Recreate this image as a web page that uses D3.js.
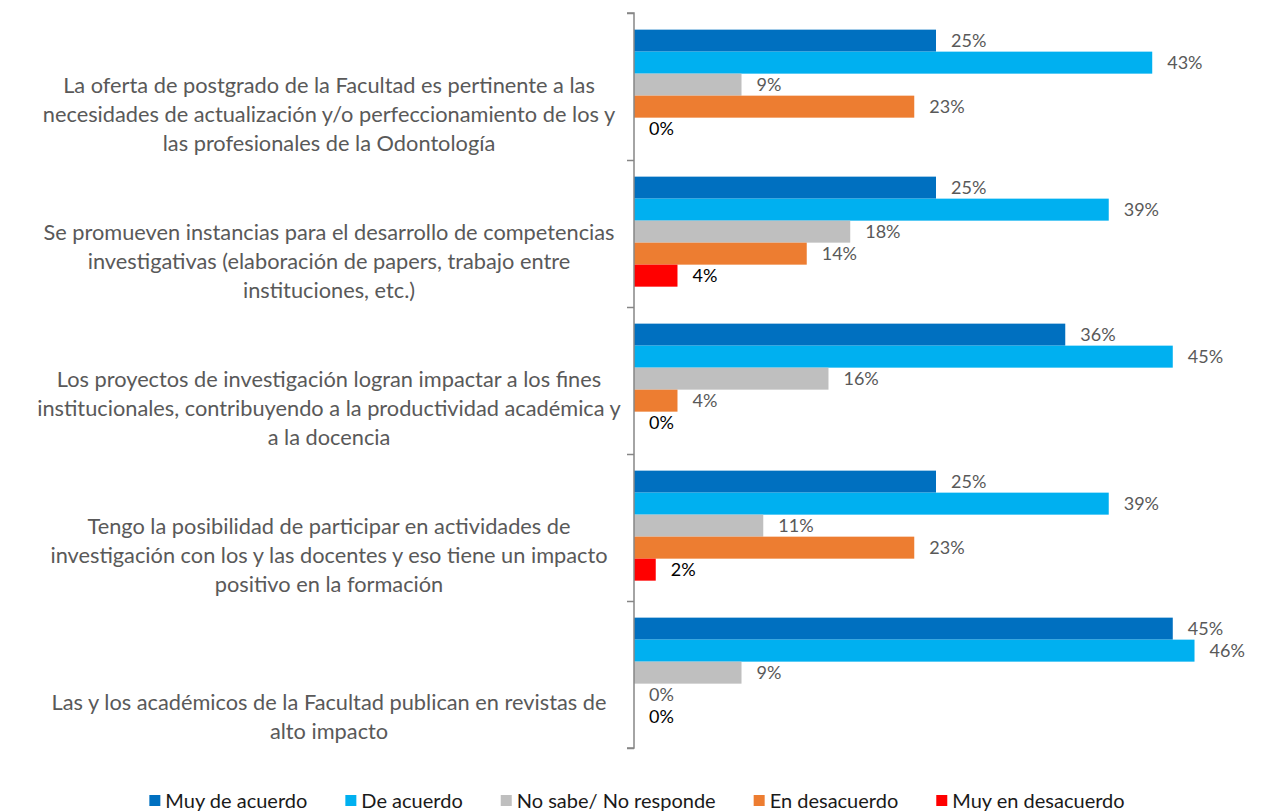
<!DOCTYPE html>
<html>
<head>
<meta charset="utf-8">
<script src="https://cdn.jsdelivr.net/npm/d3@7"></script>
<style>
  html, body { margin: 0; padding: 0; background: #fff; }
  svg { display: block; font-family: Lato, "Open Sans", sans-serif; }
</style>
</head>
<body>
<svg id="chart" width="1261" height="811"></svg>
<script>
// ---- data ----
const categories = [
  ["La oferta de postgrado de la Facultad es pertinente a las",
   "necesidades de actualización y/o perfeccionamiento de los y",
   "las profesionales de la Odontología"],
  ["Se promueven instancias para el desarrollo de competencias",
   "investigativas (elaboración de papers, trabajo entre",
   "instituciones, etc.)"],
  ["Los proyectos de investigación logran impactar a los fines",
   "institucionales, contribuyendo a la productividad académica y",
   "a la docencia"],
  ["Tengo la posibilidad de participar en actividades de",
   "investigación con los y las docentes  y eso tiene un impacto",
   "positivo en la formación"],
  ["Las y los académicos de la Facultad publican en revistas de",
   "alto impacto"]
];
const seriesNames = ["Muy de acuerdo", "De acuerdo", "No sabe/ No responde", "En desacuerdo", "Muy en desacuerdo"];
const seriesColors = ["#0070C0", "#00B0F0", "#BFBFBF", "#ED7D31", "#FF0000"];
const muyDeAcuerdo     = [25.0, 25.0, 35.7, 25.0, 44.6];
const deAcuerdo        = [42.9, 39.3, 44.6, 39.3, 46.4];
const noSabe           = [8.9, 17.9, 16.1, 10.7, 8.9];
const enDesacuerdo     = [23.2, 14.3, 3.6, 23.2, 0];
const muyEnDesacuerdo  = [0, 3.6, 0, 1.8, 0];
const seriesValues = [muyDeAcuerdo, deAcuerdo, noSabe, enDesacuerdo, muyEnDesacuerdo];

// ---- layout ----
const svg = d3.select("#chart");
const axisX = 634, plotTop = 13, plotBottom = 748;
const catIdx = d3.range(categories.length);

const x = d3.scaleLinear().domain([0, 50]).range([axisX, axisX + 604]);
const y0 = d3.scaleBand().domain(catIdx).range([plotTop, plotBottom]);
const y1 = d3.scaleBand().domain(d3.range(seriesNames.length))
  .range([0, y0.bandwidth()]).paddingOuter(0.84).paddingInner(0).align(0.45);

// bars
catIdx.forEach(ci => {
  const g = svg.append("g").attr("transform", `translate(0,${y0(ci)})`);
  seriesValues.forEach((vals, si) => {
    const v = vals[ci];
    if (v > 0) {
      g.append("rect")
        .attr("x", x(0))
        .attr("y", y1(si))
        .attr("width", x(v) - x(0))
        .attr("height", y1.bandwidth())
        .attr("fill", seriesColors[si]);
    }
    g.append("text")
      .attr("x", x(v) + 15)
      .attr("y", y1(si) + y1.bandwidth() / 2)
      .attr("dy", "0.35em")
      .attr("font-size", 18)
      .attr("fill", si === 4 ? "#000000" : "#595959")
      .text(Math.round(v) + "%");
  });
});

// axis
const axG = svg.append("g").attr("transform", `translate(${axisX},0)`);
axG.call(d3.axisLeft(d3.scaleLinear().domain([0, categories.length]).range([plotTop, plotBottom]))
  .ticks(categories.length).tickSize(7).tickFormat(""));
axG.select(".domain").attr("stroke", "#868686").attr("stroke-width", 1.5)
  .attr("d", `M-7,${plotTop}H0V${plotBottom}H-7`);
axG.selectAll(".tick line").attr("stroke", "#868686").attr("stroke-width", 1.5);

// category labels (bottom-aligned, last line at band centre + 57)
const labG = svg.append("g");
catIdx.forEach(ci => {
  const lines = categories[ci];
  const cy = y0(ci) + y0.bandwidth() / 2 + 57;
  lines.forEach((ln, li) => {
    labG.append("text")
      .attr("x", 329)
      .attr("y", cy - (lines.length - 1 - li) * 29)
      .attr("dy", "0.35em")
      .attr("text-anchor", "middle")
      .attr("font-size", 20)
      .attr("fill", "#595959")
      .text(ln);
  });
});
// fit category label width to reference (widest line ~584px)
let maxW = 0;
labG.selectAll("text").each(function () { maxW = Math.max(maxW, this.getComputedTextLength()); });
labG.selectAll("text").attr("font-size", 20 * 584 / maxW);

// legend
const leg = svg.append("g");
let lx = 0;
seriesNames.forEach((n, i) => {
  const it = leg.append("g").attr("transform", `translate(${lx},0)`);
  it.append("rect").attr("x", 0).attr("y", -5).attr("width", 11).attr("height", 11).attr("fill", seriesColors[i]);
  const t = it.append("text").attr("x", 16).attr("y", 0.5).attr("dy", "0.35em")
    .attr("font-size", 20).attr("fill", "#1a1a1a").text(n);
  lx += 16 + t.node().getComputedTextLength() + 38;
});
const legW = lx - 38;
leg.attr("transform", `translate(${637 - legW / 2},800)`);
</script>
</body>
</html>
